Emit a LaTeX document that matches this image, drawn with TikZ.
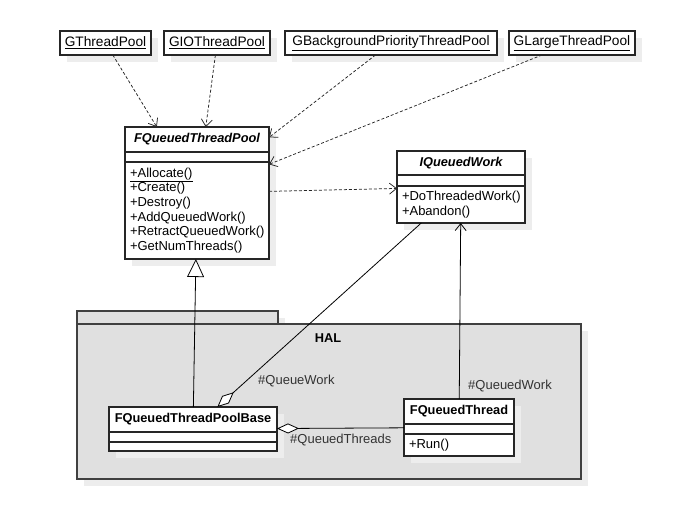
\documentclass[tikz,border=0pt]{standalone}
\usepackage{fontspec}
\setmainfont{Liberation Sans}
\usetikzlibrary{positioning,fit,shadows,arrows.meta}

\tikzset{
  umlshade/.style={drop shadow={fill=black!7, opacity=1, shadow xshift=7pt, shadow yshift=-7pt}},
  box/.style={draw=black!85, line width=1.1pt, fill=white, inner sep=0pt, outer sep=0pt, umlshade},
  topbox/.style={box, anchor=north west, minimum height=24pt, font=\fontsize{13.7}{15}\selectfont},
  cname/.style={box, anchor=north west, minimum height=25pt, font=\fontsize{12.8}{14}\selectfont\bfseries},
  cpart/.style={box, minimum height=10pt},
  cops/.style={box, align=left, inner xsep=5pt, font=\fontsize{13}{14.7}\selectfont},
  whole/.style={inner sep=0pt, outer sep=0pt},
  pkg/.style={draw=black!75, line width=1.1pt, fill=black!12, anchor=north west, inner sep=0pt, outer sep=0pt, umlshade},
  lbl/.style={inner sep=0pt, text=black!80, font=\fontsize{13}{14}\selectfont},
  dep/.style={draw=black!85, line width=0.75pt, dash pattern=on 3pt off 2pt, -{Straight Barb[length=7pt,width=11pt]}},
  assoc/.style={draw=black, line width=0.8pt}
}

\begin{document}
\begin{tikzpicture}[x=1pt,y=-1pt]
\useasboundingbox (0,0) rectangle (686,509);

% package HAL
\node[pkg, minimum width=201pt, minimum height=13pt] (haltab) at (77,311) {};
\node[pkg, minimum width=504pt, minimum height=155pt] (hal) at (77,324) {};
\node[font=\fontsize{12.8}{14}\selectfont\bfseries] (hallabel) at (328,338) {HAL};

% top instances
\node[topbox, minimum width=91pt] (gthread) at (60,31) {\underline{GThreadPool}};
\node[topbox, minimum width=106pt] (gio) at (164,31) {\underline{GIOThreadPool}};
\node[topbox, minimum width=212pt] (gback) at (285,31) {\underline{GBackgroundPriorityThreadPool}};
\node[topbox, minimum width=126pt] (glarge) at (509,31) {\underline{GLargeThreadPool}};

% FQueuedThreadPool
\node[cname, minimum width=144pt] (poolname) at (125,127) {\itshape FQueuedThreadPool};
\node[cpart, minimum width=144pt, below=0pt of poolname] (poolattr) {};
\node[cops, text width=134pt, minimum height=97pt, below=0pt of poolattr] (poolops)
  {\underline{+Allocate()}\\+Create()\\+Destroy()\\+AddQueuedWork()\\+RetractQueuedWork()\\+GetNumThreads()};
\node[whole, fit=(poolname)(poolops)] (pool) {};

% IQueuedWork
\node[cname, minimum width=128pt, minimum height=24pt] (workname) at (397,151) {\itshape IQueuedWork};
\node[cpart, minimum width=128pt, minimum height=11pt, below=0pt of workname] (workattr) {};
\node[cops, text width=118pt, minimum height=37pt, below=0pt of workattr] (workops)
  {+DoThreadedWork()\\+Abandon()};
\node[whole, fit=(workname)(workops)] (work) {};

% FQueuedThreadPoolBase
\node[cname, minimum width=168pt] (basename) at (109,407) {FQueuedThreadPoolBase};
\node[cpart, minimum width=168pt, below=0pt of basename] (baseattr) {};
\node[cpart, minimum width=168pt, minimum height=9pt, below=0pt of baseattr] (baseops) {};
\node[whole, fit=(basename)(baseops)] (base) {};

% FQueuedThread
\node[cname, minimum width=110pt] (threadname) at (404,399) {FQueuedThread};
\node[cpart, minimum width=110pt, below=0pt of threadname] (threadattr) {};
\node[cops, text width=100pt, minimum height=22pt, below=0pt of threadattr] (threadops) {+Run()};
\node[whole, fit=(threadname)(threadops)] (thread) {};

% role names
\node[lbl, anchor=west] (lqueuework) at (258,381) {\#QueueWork};
\node[lbl, anchor=west] (lqueuedwork) at (468,386) {\#QueuedWork};
\node[lbl, anchor=west] (lqueuedthreads) at (290,440) {\#QueuedThreads};

% connectors
\draw[dep] (gthread) -- (pool);
\draw[dep] (gio) -- (pool);
\draw[dep] (gback) -- (pool);
\draw[dep] (glarge) -- (pool);
\draw[dep] (pool) -- (work);
\draw[assoc, -{Triangle[length=18pt,width=17pt,fill=white]}] (base) -- (pool);
\draw[assoc, {Diamond[length=22pt,width=10pt,fill=white]}-] (base) -- (work);
\draw[assoc, {Diamond[length=22pt,width=10pt,fill=white]}-] (base) -- (thread);
\draw[assoc, -{Straight Barb[length=7pt,width=11pt]}] (thread) -- (work);
\end{tikzpicture}
\end{document}
